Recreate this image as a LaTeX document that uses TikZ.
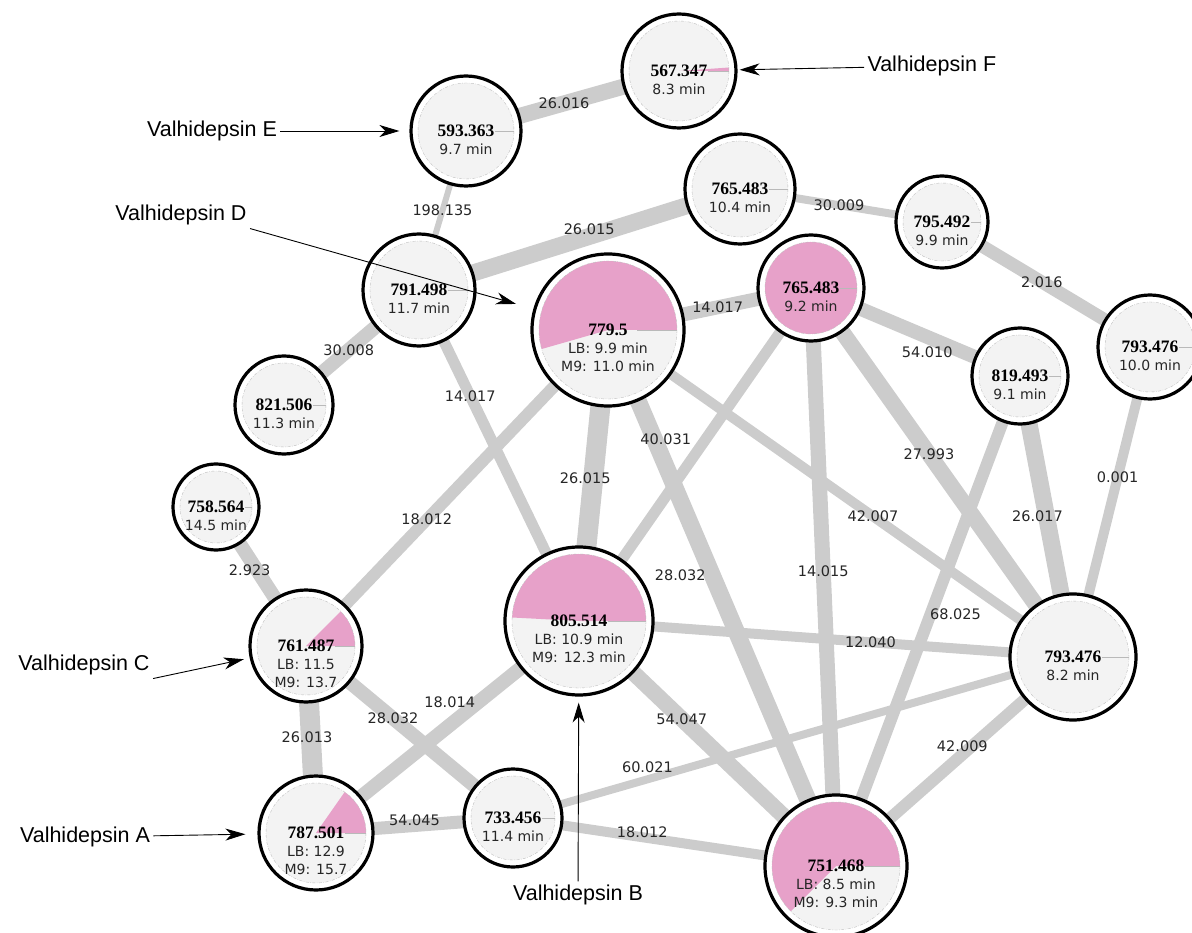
\documentclass[tikz,border=0pt]{standalone}
\usepackage{fontspec}
\setmainfont{DejaVu Sans}
\newfontfamily\massfont{Liberation Serif}
\newfontfamily\notefont{Liberation Sans}
\usetikzlibrary{arrows.meta}

\definecolor{piepink}{RGB}{231,161,201}
\definecolor{linkgray}{RGB}{204,204,204}
\definecolor{diskgray}{RGB}{243,243,243}

\pgfdeclarelayer{links}
\pgfsetlayers{links,main}

% one network node: name, x, y, radius, pie angle, mass, line 2, line 3
\newcommand{\molnode}[8]{%
  \pgfmathsetmacro{\rin}{#4-7}%
  \node[ring, minimum size=2*#4pt] (#1) at (#2,#3) {};
  \fill[diskgray] (#2,#3) circle[radius=\rin];
  \ifnum#5>0
    \fill[piepink] (#2,#3) -- ++(\rin,0) arc[start angle=0, end angle=-#5, radius=\rin] -- cycle;
  \fi
  \draw[gray!55, line width=0.5pt] (#2,#3) ++(29,0) -- ++(\rin-29,0);
  \draw[disk rim] (#2,#3) circle[radius=\rin];
  \node[mass] (#1-m) at (#2,#3) {#6};
  \node[rtime] (#1-t) at (#2,#3+18) {#7};
  \if\relax\detokenize{#8}\relax\else
    \node[rtime] (#1-u) at (#2,#3+36) {#8};
  \fi
}

\begin{document}
\begin{tikzpicture}[
    x=1pt, y=-1pt,
    % outer ring of a node
    ring/.style={circle, draw=black, fill=white, line width=3.2pt, inner sep=0pt},
    disk rim/.style={gray!50, line width=0.4pt, dash pattern=on 3pt off 1.5pt on 0.6pt off 1.5pt},
    mass/.style={font=\massfont\bfseries\fontsize{17.5}{20}\selectfont, inner sep=0pt},
    rtime/.style={font=\fontsize{14}{16}\selectfont, text=black!85, inner sep=0pt},
    % edges and their labels
    link/.style={draw=linkgray, line width=#1pt},
    tag/.style={font=\fontsize{14.5}{16}\selectfont, text=black!85, inner sep=1pt},
    % annotations
    note/.style={font=\notefont\fontsize{21.5}{25}\selectfont},
    pointer/.style={-{Stealth[length=20pt, width=12pt, inset=6pt]}, line width=0.9pt}
]
\useasboundingbox (0,0) rectangle (1192,933);

% --- Nodes ---
\molnode{n567}{679}{71}{57}{4}{567.347}{8.3 min}{}
\molnode{n593}{466}{131}{55}{0}{593.363}{9.7 min}{}
\molnode{n7654}{740}{189}{55}{0}{765.483}{10.4 min}{}
\molnode{n795}{942}{222}{46}{0}{795.492}{9.9 min}{}
\molnode{n791}{419}{290}{56}{0}{791.498}{11.7 min}{}
\molnode{n779}{608}{330}{76}{196}{779.5}{LB: 9.9 min}{M9: 11.0 min}
\molnode{n7652}{811}{288}{53}{360}{765.483}{9.2 min}{}
\molnode{n7934}{1150}{347}{52}{0}{793.476}{10.0 min}{}
\molnode{n821}{284}{405}{49}{0}{821.506}{11.3 min}{}
\molnode{n819}{1020}{376}{48}{0}{819.493}{9.1 min}{}
\molnode{n758}{216}{507}{43}{0}{758.564}{14.5 min}{}
\molnode{n805}{579}{621}{74}{177}{805.514}{LB: 10.9 min}{M9: 12.3 min}
\molnode{n761}{306}{646}{56}{45}{761.487}{LB: 11.5}{M9: 13.7}
\molnode{n7932}{1073}{657}{63}{0}{793.476}{8.2 min}{}
\molnode{n787}{316}{833}{57}{55}{787.501}{LB: 12.9}{M9: 15.7}
\molnode{n733}{513}{818}{49}{0}{733.456}{11.4 min}{}
\molnode{n751}{836}{866}{71}{225}{751.468}{LB: 8.5 min}{M9: 9.3 min}

% --- Edges with labels ---
\begin{pgfonlayer}{links}
\draw[link=16] (n567.center) -- (n593.center) node[tag, pos=.54] {26.016};
\draw[link=6] (n593.center) -- (n791.center) node[tag, pos=.50] {198.135};
\draw[link=17] (n791.center) -- (n7654.center) node[tag, pos=.53, yshift=7pt] {26.015};
\draw[link=8] (n7654.center) -- (n795.center) node[tag, pos=.49] {30.009};
\draw[link=13] (n795.center) -- (n7934.center) node[tag, pos=.48] {2.016};
\draw[link=14] (n791.center) -- (n821.center) node[tag, pos=.52] {30.008};
\draw[link=11] (n791.center) -- (n805.center) node[tag, pos=.32] {14.017};
\draw[link=14] (n779.center) -- (n7652.center) node[tag, pos=.54] {14.017};
\draw[link=20] (n779.center) -- (n805.center) node[tag, pos=.51, xshift=-8pt] {26.015};
\draw[link=17] (n779.center) -- (n751.center) node[tag, pos=.435, xshift=-27pt, yshift=-12pt] {28.032};
\draw[link=10] (n779.center) -- (n7932.center) node[tag, pos=.57] {42.007};
\draw[link=12] (n779.center) -- (n761.center) node[tag, pos=.60] {18.012};
\draw[link=11] (n7652.center) -- (n805.center) node[tag, pos=.51, xshift=-27pt, yshift=19pt] {40.031};
\draw[link=15] (n7652.center) -- (n751.center) node[tag, pos=.49] {14.015};
\draw[link=14] (n7652.center) -- (n819.center) node[tag, pos=.58, xshift=-5pt, yshift=-13pt] {54.010};
\draw[link=16] (n7652.center) -- (n7932.center) node[tag, pos=.45] {27.993};
\draw[link=10] (n805.center) -- (n7932.center) node[tag, pos=.59] {12.040};
\draw[link=16] (n805.center) -- (n751.center) node[tag, pos=.40] {54.047};
\draw[link=14] (n805.center) -- (n787.center) node[tag, pos=.45, xshift=-11pt, yshift=14pt] {18.014};
\draw[link=17] (n819.center) -- (n7932.center) node[tag, pos=.50, xshift=-9pt] {26.017};
\draw[link=12] (n819.center) -- (n751.center) node[tag, pos=.47, xshift=22pt, yshift=-8pt] {68.025};
\draw[link=10] (n7934.center) -- (n7932.center) node[tag, pos=.42] {0.001};
\draw[link=12] (n7932.center) -- (n751.center) node[tag, pos=.45, xshift=-4pt, yshift=5pt] {42.009};
\draw[link=8] (n733.center) -- (n7932.center) node[tag, pos=.24, yshift=12pt] {60.021};
\draw[link=10] (n733.center) -- (n751.center) node[tag, pos=.40, yshift=5pt] {18.012};
\draw[link=13] (n733.center) -- (n787.center) node[tag, pos=.50, yshift=5pt] {54.045};
\draw[link=14] (n733.center) -- (n761.center) node[tag, pos=.58] {28.032};
\draw[link=20] (n761.center) -- (n787.center) node[tag, pos=.49, xshift=-4pt] {26.013};
\draw[link=14] (n761.center) -- (n758.center) node[tag, pos=.57, xshift=-5pt, yshift=-3pt] {2.923};
\end{pgfonlayer}

% --- Annotations ---
\node[note, anchor=west] (vF) at (864,66) {Valhidepsin F};
\node[note] (vE) at (212,131) {Valhidepsin E};
\node[note] (vD) at (181,215) {Valhidepsin D};
\node[note] (vC) at (84,665) {Valhidepsin C};
\node[note] (vA) at (85,837) {Valhidepsin A};
\node[note] (vB) at (578,895) {Valhidepsin B};

\draw[pointer, shorten >=2pt] (vF) -- (n567);
\draw[pointer, shorten >=10pt] (vE) -- (n593);
\draw[pointer, shorten >=18pt] (vD.south east) -- (n779);
\draw[pointer, shorten >=6pt] (vC.south east) -- (n761);
\draw[pointer, shorten >=12pt] (vA) -- (n787);
\draw[pointer, shorten >=6pt] (vB) -- (n805);

\end{tikzpicture}
\end{document}
